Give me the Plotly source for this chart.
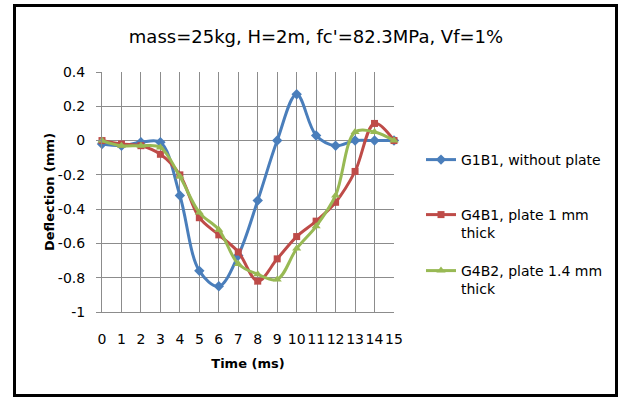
import plotly.graph_objects as go

time_ms = list(range(16))
g1b1 = [-0.02, -0.03, -0.01, -0.01, -0.32, -0.76, -0.85, -0.67, -0.35, 0.0, 0.27, 0.03, -0.03, 0.0, 0.0, 0.0]
g4b1 = [0.0, -0.02, -0.03, -0.08, -0.20, -0.45, -0.55, -0.65, -0.82, -0.69, -0.56, -0.47, -0.36, -0.18, 0.10, 0.0]
g4b2 = [0.0, -0.03, -0.03, -0.04, -0.21, -0.42, -0.52, -0.72, -0.78, -0.81, -0.63, -0.50, -0.32, 0.05, 0.05, 0.0]

names = ["G1B1, without plate", "G4B1, plate 1 mm<br>thick", "G4B2, plate 1.4 mm<br>thick"]
colors = ["#4A7EBB", "#BE4B48", "#98B954"]
symbols = ["diamond", "square", "triangle-up"]

y_tickvals = [0.4, 0.2, 0, -0.2, -0.4, -0.6, -0.8, -1]
y_ticktext = ["0.4", "0.2", "0", "-0.2", "-0.4", "-0.6", "-0.8", "-1"]

W, H = 619, 399
ML, MR, MT, MB = 102, 225, 72, 87
PW, PH = W - ML - MR, H - MT - MB

def px_x(p):
    return (p - ML) / PW

def px_y(p):
    return (H - MB - p) / PH

FONT = "DejaVu Sans"

fig = go.Figure()
legends = ["legend", "legend2", "legend3"]
for name, ys, c, s, lg in zip(names, [g1b1, g4b1, g4b2], colors, symbols, legends):
    fig.add_trace(go.Scatter(
        x=time_ms, y=ys, name=name, mode="lines+markers",
        line=dict(color=c, width=3, shape="spline", smoothing=1.0),
        marker=dict(symbol=s, size=8 if s != "square" else 7, color=c),
        cliponaxis=False, legend=lg, showlegend=True,
    ))

leg_common = dict(font=dict(family=FONT, size=14, color="#000"), bgcolor="rgba(0,0,0,0)",
                  xref="container", yref="container",
                  xanchor="left", yanchor="top", valign="top", tracegroupgap=0)

LX = 421
fig.update_layout(
    width=W, height=H, showlegend=True,
    margin=dict(l=ML, r=MR, t=MT, b=MB, autoexpand=False),
    paper_bgcolor="white", plot_bgcolor="white",
    font=dict(family=FONT, size=14, color="#000"),
    title=dict(text="mass=25kg, H=2m, fc'=82.3MPa, Vf=1%", font=dict(family=FONT, size=18, color="#000"),
               xref="container", yref="container", x=316 / W, y=1 - 37 / H,
               xanchor="center", yanchor="middle"),
    xaxis=dict(range=[0, 15], dtick=1, tick0=0, showgrid=True, gridcolor="#8C8C8C", gridwidth=1,
               showline=True, linecolor="#8C8C8C", linewidth=1, zeroline=False, ticks="",
               tickangle=0, tickfont=dict(family=FONT, size=14), ticklabelstandoff=14,
               title=dict(text="<b>Time (ms)</b>", font=dict(family=FONT, size=13), standoff=13)),
    yaxis=dict(range=[-1, 0.4], tickvals=y_tickvals, ticktext=y_ticktext, showgrid=True,
               gridcolor="#8C8C8C", gridwidth=1, showline=True, linecolor="#8C8C8C", linewidth=1,
               zeroline=False, ticks="outside", ticklen=5, tickcolor="#8C8C8C",
               tickfont=dict(family=FONT, size=14), ticklabelstandoff=8,
               title=dict(text="<b>Deflection (mm)</b>", font=dict(family=FONT, size=13), standoff=0)),
    legend=dict(x=LX / W, y=1 - 144 / H, **leg_common),
    legend2=dict(x=LX / W, y=1 - 199 / H, **leg_common),
    legend3=dict(x=LX / W, y=1 - 255 / H, **leg_common),
    shapes=[dict(type="rect", xref="paper", yref="paper",
                 x0=px_x(14.5), x1=px_x(616.5), y0=px_y(395.5), y1=px_y(5.5),
                 line=dict(color="#000", width=3), fillcolor="rgba(0,0,0,0)", layer="below")],
)

fig.write_html("out.html")
